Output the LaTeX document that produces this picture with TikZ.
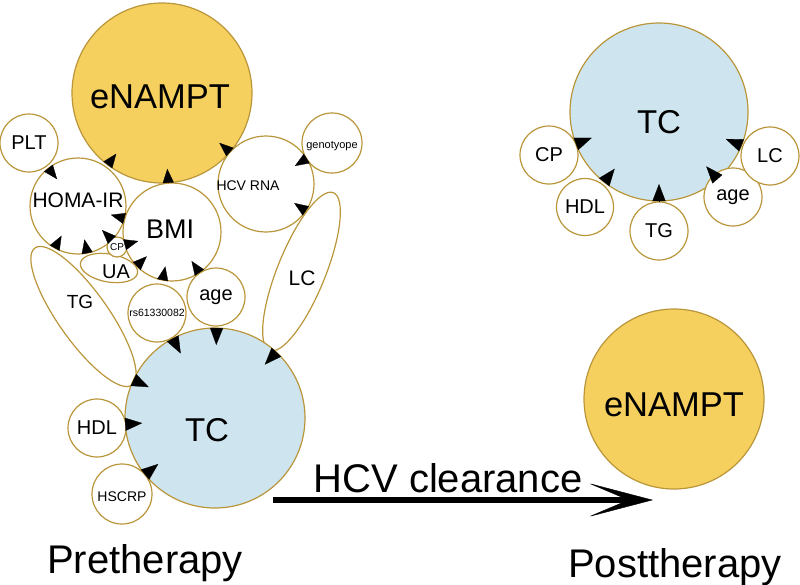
\documentclass[tikz,border=0pt]{standalone}
\usepackage{fontspec}
\setmainfont{Liberation Sans}
\usetikzlibrary{calc,arrows.meta,shapes.geometric}
\definecolor{rim}{RGB}{186,150,58}
\definecolor{gold}{RGB}{246,208,94}
\definecolor{sky}{RGB}{206,228,238}
\newcommand\fsz[1]{\fontsize{#1}{#1}\selectfont}
\begin{document}
\begin{tikzpicture}[x=1pt,y=-1pt,
  bub/.style={circle,draw=rim,line width=1.2pt,fill=white,inner sep=0pt,outer sep=0pt,text=black},
  oval/.style={ellipse,draw=rim,line width=1.2pt,inner sep=0pt,outer sep=0pt},
  txt/.style={inner sep=0pt,outer sep=0pt,text=black},
  arr/.style={line width=0.3pt,-{Triangle[length=14pt,width=11pt]}},
  arrL/.style={line width=0.3pt,-{Triangle[length=17pt,width=13pt]}},
  bigarr/.style={line width=6pt,-{Stealth[length=65pt,width=34pt,inset=40pt,line width=0.4pt]}}]
\useasboundingbox (0,0) rectangle (800,584);

% ---------- Pretherapy ----------
\node[oval, minimum width=170pt, minimum height=48pt, rotate=68] (LCe) at (301.5,271.5) {};
\node[oval, minimum width=168pt, minimum height=50pt, rotate=-54.7] (TGe) at (83.5,316.5) {};
\node[oval, minimum width=58pt, minimum height=28pt, rotate=-10] (UAe) at (109,268) {};
\node[txt,font=\fsz{21}] (LC) at (302,278) {LC};
\node[txt,font=\fsz{19}] (TG) at (80,302) {TG};
\node[txt,font=\fsz{20}] (UA) at (116,272) {UA};

\node[bub, fill=gold, minimum size=180pt,
  label={[txt,font=\fsz{34.5},xshift=-2pt,yshift=-4pt]center:eNAMPT}] (E1) at (162,93) {};
\node[bub, minimum size=58pt, font=\fsz{20}] (PLT) at (29,143) {PLT};
\node[bub, minimum size=96pt,
  label={[txt,font=\fsz{21},yshift=6pt]center:HOMA-IR}] (HOMA) at (78,206) {};
\node[bub, minimum size=98pt,
  label={[txt,font=\fsz{27},xshift=-2pt,yshift=3pt]center:BMI}] (BMI) at (172,232) {};
\node[bub, minimum size=20pt, font=\fsz{10}] (CP) at (117,247) {CP};
\node[bub, minimum size=60pt,
  label={[txt,font=\fsz{11},yshift=-3pt]center:genotyope}] (GEN) at (332,143) {};
\node[bub, minimum size=96pt,
  label={[txt,font=\fsz{14},xshift=-18pt,yshift=-2pt]center:HCV RNA}] (HCV) at (266,184) {};
\node[bub, minimum size=58pt, font=\fsz{10.5}] (RS) at (157,313) {rs61330082};
\node[bub, minimum size=58pt, font=\fsz{20}] (AGE) at (216,297) {age};
\node[bub, fill=sky, minimum size=180pt,
  label={[txt,font=\fsz{33},xshift=-8pt,yshift=-12pt]center:TC}] (TC) at (215,418) {};
\node[bub, minimum size=58pt, font=\fsz{20}] (HDL) at (97,428) {HDL};
\node[bub, minimum size=60pt,
  label={[txt,font=\fsz{14},yshift=-3pt]center:HSCRP}] (HSCRP) at (122,494) {};

% arrows into eNAMPT
\draw[arr] (E1.233) -- ($(E1.233)!14pt!(E1.center)$);   % HOMA-IR
\draw[arr] (E1.274) -- ($(E1.274)!14pt!(E1.center)$);   % BMI
\draw[arr] (E1.319) -- ($(E1.319)!14pt!(E1.center)$);   % HCV RNA
% into HCV RNA
\draw[arr] (HCV.32) -- ($(HCV.32)!14pt!(HCV.center)$);  % genotyope
\draw[arr] (HCV.-34) -- ($(HCV.-34)!14pt!(HCV.center)$);% LC
% into HOMA-IR
\draw[arr] (HOMA.128) -- ($(HOMA.128)!14pt!(HOMA.center)$); % PLT
\draw[arr] (HOMA.-15.5) -- ($(HOMA.-15.5)!14pt!(HOMA.center)$); % BMI
\draw[arr] (HOMA.-45.7) -- ($(HOMA.-45.7)!14pt!(HOMA.center)$); % CP
\draw[arr] (HOMA.241) -- ($(HOMA.241)!14pt!(HOMA.center)$); % TG
\draw[arr] (HOMA.-79) -- ($(HOMA.-79)!14pt!(HOMA.center)$); % UA
% into BMI
\draw[arr] (BMI.195.5) -- ($(BMI.195.5)!14pt!(BMI.center)$); % CP
\draw[arr] (BMI.224) -- ($(BMI.224)!14pt!(BMI.center)$); % UA
\draw[arr] (BMI.259.5) -- ($(BMI.259.5)!14pt!(BMI.center)$); % rs61330082
\draw[arr] (BMI.304) -- ($(BMI.304)!14pt!(BMI.center)$); % age
% into TC
\draw[arrL] (TC.118.9) -- ($(TC.118.9)!17pt!(TC.center)$); % rs61330082
\draw[arrL] (TC.89.5) -- ($(TC.89.5)!17pt!(TC.center)$);   % age
\draw[arrL] (TC.47.6) -- ($(TC.47.6)!17pt!(TC.center)$);   % LC
\draw[arrL] (TC.155) -- ($(TC.155)!17pt!(TC.center)$);     % TG
\draw[arrL] (TC.184.8) -- ($(TC.184.8)!17pt!(TC.center)$); % HDL
\draw[arrL] (TC.219.3) -- ($(TC.219.3)!17pt!(TC.center)$); % HSCRP

% ---------- Posttherapy ----------
\node[bub, fill=sky, minimum size=178pt,
  label={[txt,font=\fsz{33},yshift=-10pt]center:TC}] (TC2) at (659,112) {};
\node[bub, minimum size=58pt, font=\fsz{20}] (CP2) at (549,155) {CP};
\node[bub, minimum size=57pt, font=\fsz{20}] (HDL2) at (585,207) {HDL};
\node[bub, minimum size=58pt, font=\fsz{20}] (TG2) at (659,231) {TG};
\node[bub, minimum size=58pt, font=\fsz{20}] (AGE2) at (733,197) {age};
\node[bub, minimum size=58pt, font=\fsz{20}] (LC2) at (770,156) {LC};
\draw[arrL] (TC2.201.3) -- ($(TC2.201.3)!17pt!(TC2.center)$); % CP
\draw[arrL] (TC2.232.1) -- ($(TC2.232.1)!17pt!(TC2.center)$); % HDL
\draw[arrL] (TC2.270) -- ($(TC2.270)!17pt!(TC2.center)$);     % TG
\draw[arrL] (TC2.311) -- ($(TC2.311)!17pt!(TC2.center)$);     % age
\draw[arrL] (TC2.338.4) -- ($(TC2.338.4)!17pt!(TC2.center)$); % LC

\node[bub, fill=gold, minimum size=180pt,
  label={[txt,font=\fsz{34.5},yshift=-6pt]center:eNAMPT}] (E2) at (674,399) {};

% ---------- transition ----------
\coordinate (arrS) at (273,500);
\coordinate (arrE) at (653,500);
\draw[bigarr] (arrS) -- (arrE);
\node[txt, anchor=base, font=\fsz{40}] (HCVc) at (448,492) {HCV clearance};
\node[txt, anchor=base, font=\fsz{40}] (PRE) at (145,573) {Pretherapy};
\node[txt, anchor=base, font=\fsz{40}] (POST) at (675,577) {Posttherapy};
\end{tikzpicture}
\end{document}
